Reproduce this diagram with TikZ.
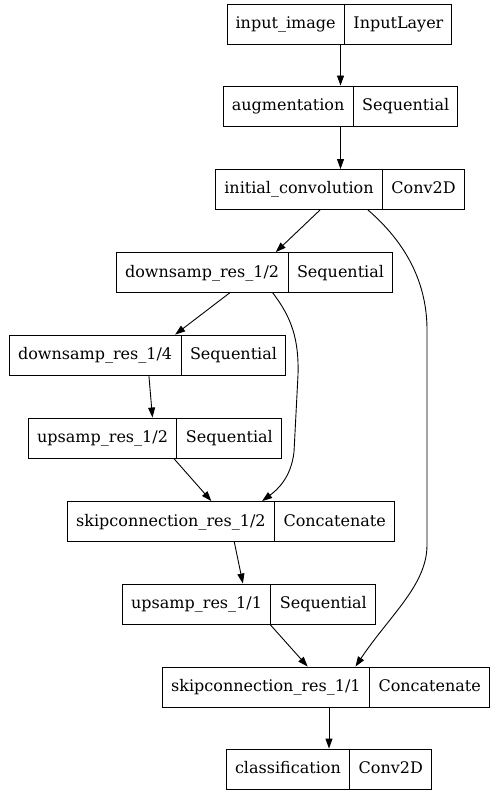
\documentclass[tikz,border=0pt]{standalone}
\usepackage{fontspec}
\setmainfont{DejaVu Serif}
\usepackage{tikz}
\usetikzlibrary{arrows.meta,positioning,shapes,calc}

\begin{document}
\begin{tikzpicture}[
  x=1pt, y=-1pt,
  layer/.style={draw, rectangle split, rectangle split horizontal, rectangle split parts=2, rectangle split part align=base, line width=0.9pt, inner xsep=8.5pt, inner ysep=11.5pt, text height=13pt, text depth=4pt, font=\fontsize{16}{18}\selectfont},
  arrow/.style={-{Triangle[length=10pt, width=7pt]}, line width=0.9pt}
]
\useasboundingbox (0,0) rectangle (490,791);

% Layers
\node[layer] (inp) at (339.5, 24) {input\_image \nodepart{two} InputLayer};
\node[layer] (aug) at (340.5, 106) {augmentation \nodepart{two} Sequential};
\node[layer] (init) at (340, 189.5) {initial\_convolution \nodepart{two} Conv2D};
\node[layer] (ds12) at (254.5, 272.5) {downsamp\_res\_1/2 \nodepart{two} Sequential};
\node[layer] (ds14) at (147.5, 355) {downsamp\_res\_1/4 \nodepart{two} Sequential};
\node[layer] (up12) at (155, 438) {upsamp\_res\_1/2 \nodepart{two} Sequential};
\node[layer] (sk12) at (231, 521.5) {skipconnection\_res\_1/2 \nodepart{two} Concatenate};
\node[layer] (up11) at (249, 604) {upsamp\_res\_1/1 \nodepart{two} Sequential};
\node[layer] (sk11) at (326, 687) {skipconnection\_res\_1/1 \nodepart{two} Concatenate};
\node[layer] (cls) at (329, 769) {classification \nodepart{two} Conv2D};

% Connections
\draw[arrow] (inp.south -| aug.center) -- (aug.north);
\draw[arrow] (aug.south) -- (aug.south |- init.north);
\draw[arrow] ($(init.south west)!0.42!(init.south east)$) -- ($(ds12.north west)!0.577!(ds12.north east)$);
\draw[arrow] ($(init.south west)!0.612!(init.south east)$) .. controls (412,248) and (427,290) .. (427,330)
  -- (427,545) .. controls (427,585) and (390,615) .. ($(sk11.north west)!0.59!(sk11.north east)$);
\draw[arrow] ($(ds12.south west)!0.41!(ds12.south east)$) -- ($(ds14.north west)!0.60!(ds14.north east)$);
\draw[arrow] ($(ds12.south west)!0.566!(ds12.south east)$) .. controls (292,318) and (299,340) .. (298,375)
  -- (294,452) .. controls (291,478) and (277,490) .. ($(sk12.north west)!0.595!(sk12.north east)$);
\draw[arrow] ($(ds14.south west)!0.505!(ds14.south east)$) -- ($(up12.north west)!0.49!(up12.north east)$);
\draw[arrow] ($(up12.south west)!0.574!(up12.south east)$) -- ($(sk12.north west)!0.44!(sk12.north east)$);
\draw[arrow] ($(sk12.south west)!0.51!(sk12.south east)$) -- ($(up11.north west)!0.476!(up11.north east)$);
\draw[arrow] ($(up11.south west)!0.583!(up11.south east)$) -- ($(sk11.north west)!0.444!(sk11.north east)$);
\draw[arrow] (sk11.south -| cls.center) -- (cls.north);

\end{tikzpicture}
\end{document}
